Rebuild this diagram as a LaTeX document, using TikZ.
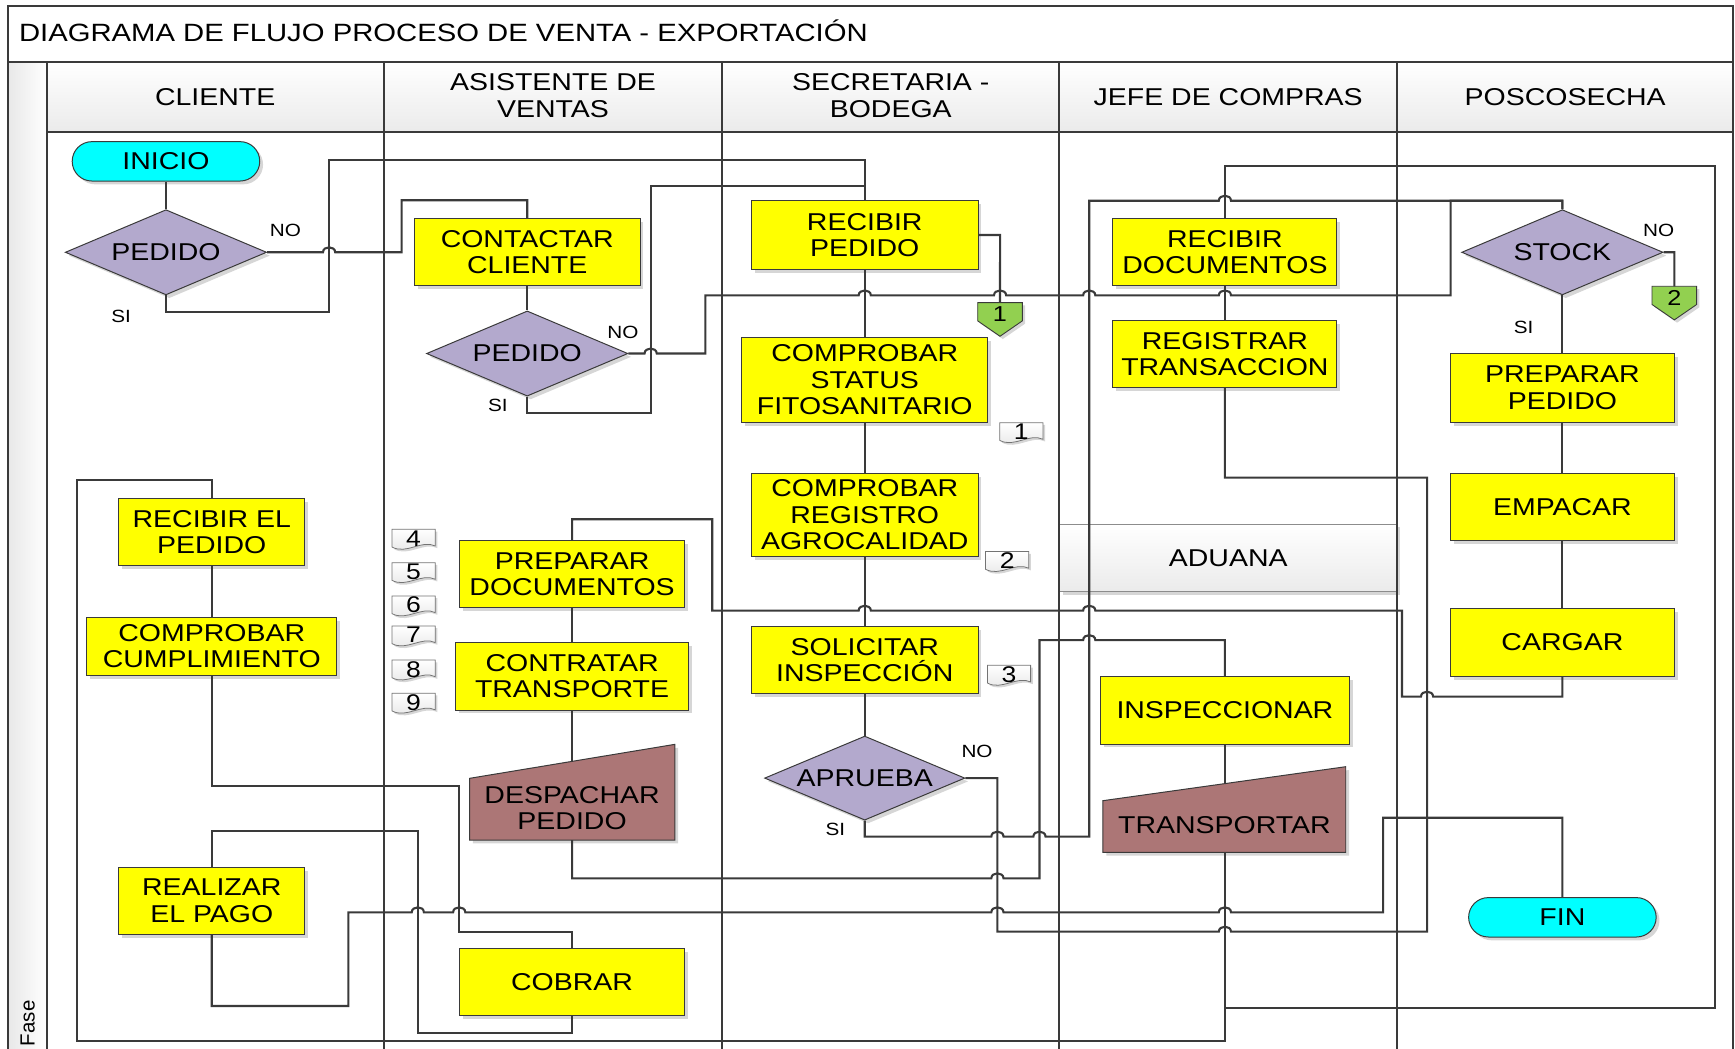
\documentclass[tikz,border=0pt]{standalone}
\usepackage{fontspec}
\setmainfont[FakeStretch=1.17]{Liberation Sans}
\newfontfamily\phasefont{Liberation Sans}
\usetikzlibrary{shapes.geometric,shadows}

\definecolor{ink}{HTML}{3A3A3A}
\definecolor{procfill}{HTML}{FFFF00}
\definecolor{decfill}{HTML}{B3A9CD}
\definecolor{termfill}{HTML}{00FFFF}
\definecolor{manfill}{HTML}{AC7676}
\definecolor{pagefill}{HTML}{92D050}
\definecolor{shade}{HTML}{D6D6D6}

% line hops over a crossing vertical line, centred at x = #1 on the row y = #2
\newcommand\hopR[2]{-- ({#1-5.5},#2) .. controls ({#1-5.5},{#2-6}) and ({#1+5.5},{#2-6}) .. ({#1+5.5},#2)}
\newcommand\hopL[2]{-- ({#1+5.5},#2) .. controls ({#1+5.5},{#2-6}) and ({#1-5.5},{#2-6}) .. ({#1-5.5},#2)}

% small document symbol with a number
\newcommand\docsheet[3]{%
  \path[draw=black!55,line width=0.7pt,top color=white,bottom color=black!10,
        drop shadow={shadow xshift=2pt,shadow yshift=-2pt,fill=shade,opacity=1}]
    (#1,#2) -- ({#1+39},#2) -- ({#1+39},{#2+15})
    .. controls ({#1+27},{#2+9}) and ({#1+13},{#2+23}) .. (#1,{#2+16}) -- cycle;
  \node[font=\fontsize{20.5}{22}\selectfont] (sheet#3) at ({#1+19.5},{#2+8.3}) {#3};}

% off-page connector pointing down
\newcommand\offpage[3]{%
  \path[draw=ink,line width=0.8pt,fill=pagefill,
        drop shadow={shadow xshift=2.5pt,shadow yshift=-2.5pt,fill=shade,opacity=1}]
    (#1,#2) -- ({#1+40.3},#2) -- ({#1+40.3},{#2+16.5}) -- ({#1+20.15},{#2+30.4})
    -- (#1,{#2+16.5}) -- cycle;
  \coordinate (offtop#3) at ({#1+20.15},#2);
  \node[font=\fontsize{19.5}{20}\selectfont] (off#3) at ({#1+20.15},{#2+10.5}) {#3};}

\begin{document}
\begin{tikzpicture}[x=1pt,y=-1pt,
  every node/.style={font=\fontsize{22}{24}\selectfont,inner sep=0pt},
  softshadow/.style={drop shadow={shadow xshift=3pt,shadow yshift=-3pt,fill=shade,opacity=1}},
  procbox/.style={rectangle,draw=ink,line width=0.9pt,fill=procfill,align=center,softshadow},
  decision/.style={diamond,aspect=2.4,draw=ink,line width=0.9pt,fill=decfill,softshadow,
                   minimum width=182pt,minimum height=77pt},
  terminal/.style={rectangle,rounded corners=17.8pt,draw=ink,line width=0.9pt,fill=termfill,
                   softshadow,minimum width=169.5pt,minimum height=35.6pt},
  manualop/.style={draw=ink,line width=0.9pt,fill=manfill,softshadow},
  conn/.style={draw=ink,line width=1.9pt},
  lane/.style={draw=ink,line width=1.8pt},
  branchlbl/.style={font=\fontsize{16}{18}\selectfont}]

\useasboundingbox (0,0) rectangle (1568,948);

% ---------- pool: title, lane headers, phase column ----------
\fill[left color=black!9,right color=white] (7.6,56.3) rectangle (42.2,948);
\fill[top color=white,bottom color=black!8] (42.2,56.3) rectangle (1566.5,119);

\node[draw=black!45,line width=0.9pt,top color=white,bottom color=black!8,softshadow,
      minimum width=305.1pt,minimum height=61.1pt] (aduana) at (1110,504.2) {ADUANA};

\draw[lane] (7.6,948) -- (7.6,5.4) -- (1566.5,5.4) -- (1566.5,948);
\draw[lane] (7.6,56.3) -- (1566.5,56.3);
\draw[lane] (42.2,56.3) -- (42.2,948);
\draw[lane] (42.2,119) -- (1566.5,119);
\foreach \xx in {346.9,652.6,957.5,1262.6} \draw[lane] (\xx,56.3) -- (\xx,948);

\node[anchor=base west,font=\fontsize{22.6}{24}\selectfont] (title) at (17,37.7)
  {DIAGRAMA DE FLUJO PROCESO DE VENTA - EXPORTACIÓN};
\node (hdrCli) at (194.5,88) {CLIENTE};
\node[align=center] (hdrAsi) at (499.8,86.5) {ASISTENTE DE\\VENTAS};
\node[align=center] (hdrSec) at (805,86.5) {SECRETARIA -\\BODEGA};
\node (hdrJef) at (1110,88) {JEFE DE COMPRAS};
\node (hdrPos) at (1414.5,88) {POSCOSECHA};
\node[rotate=90,anchor=east,font=\phasefont\fontsize{18.5}{20}\selectfont] (fase) at (25,904) {Fase};

% ---------- CLIENTE ----------
\node[terminal] (inicio) at (150,145.8) {INICIO};
\node[decision] (pedC) at (150,228) {PEDIDO};
\node[procbox,minimum width=168.4pt,minimum height=60.5pt] (rEl) at (191.4,481) {RECIBIR EL\\PEDIDO};
\node[procbox,minimum width=225.9pt,minimum height=52.4pt] (compC) at (191.4,584.1) {COMPROBAR\\CUMPLIMIENTO};
\node[procbox,minimum width=168.4pt,minimum height=60.6pt] (realiz) at (191.4,814.1) {REALIZAR\\EL PAGO};

% ---------- ASISTENTE DE VENTAS ----------
\node[procbox,minimum width=204.1pt,minimum height=60.9pt] (contact) at (476.5,227.8) {CONTACTAR\\CLIENTE};
\node[decision] (pedA) at (476.5,319.5) {PEDIDO};
\node[procbox,minimum width=202.8pt,minimum height=60.9pt] (prepDoc) at (517,519) {PREPARAR\\DOCUMENTOS};
\node[procbox,minimum width=210.4pt,minimum height=60.9pt] (contr) at (517,611.2) {CONTRATAR\\TRANSPORTE};
\path[manualop] (424.4,703.4) -- (609.9,672.7) -- (609.9,759.2) -- (424.4,759.2) -- cycle;
\coordinate (despTop) at (517,688.1);
\coordinate (despBot) at (517,759.2);
\node[align=center] (desp) at (517,730.2) {DESPACHAR\\PEDIDO};
\node[procbox,minimum width=202.8pt,minimum height=60.6pt] (cobrar) at (517,887.3) {COBRAR};
\docsheet{354.3}{478.4}{4}
\docsheet{354.3}{508.5}{5}
\docsheet{354.3}{538.6}{6}
\docsheet{354.3}{565.7}{7}
\docsheet{354.3}{596.5}{8}
\docsheet{354.3}{626.5}{9}

% ---------- SECRETARIA - BODEGA ----------
\node[procbox,minimum width=204.9pt,minimum height=62pt] (recP) at (781.5,212.4) {RECIBIR\\PEDIDO};
\offpage{883.6}{273.5}{1}
\node[procbox,minimum width=222.4pt,minimum height=76.9pt] (compS) at (781.5,343.2) {COMPROBAR\\STATUS\\FITOSANITARIO};
\node[procbox,minimum width=204.9pt,minimum height=75.3pt] (compR) at (781.5,465.4) {COMPROBAR\\REGISTRO\\AGROCALIDAD};
\node[procbox,minimum width=204.9pt,minimum height=60.3pt] (solic) at (781.5,596.5) {SOLICITAR\\INSPECCIÓN};
\node[decision,minimum width=181pt,minimum height=76pt] (apr) at (781.5,703.2) {APRUEBA};
\docsheet{903.5}{382}{1}
\docsheet{890.7}{498.5}{2}
\docsheet{892.4}{601.3}{3}

% ---------- JEFE DE COMPRAS ----------
\node[procbox,minimum width=202.4pt,minimum height=60.9pt] (recD) at (1107,227.8) {RECIBIR\\DOCUMENTOS};
\node[procbox,minimum width=202.4pt,minimum height=60.6pt] (regT) at (1107,320.1) {REGISTRAR\\TRANSACCION};
\node[procbox,minimum width=224.6pt,minimum height=60.9pt] (insp) at (1107,642) {INSPECCIONAR};
\path[manualop] (996.8,723.6) -- (1216.2,692.9) -- (1216.2,770.3) -- (996.8,770.3) -- cycle;
\coordinate (transpTop) at (1107,708.2);
\coordinate (transpBot) at (1107,770.3);
\node (transp) at (1106.6,745.6) {TRANSPORTAR};

% ---------- POSCOSECHA ----------
\node[decision] (stock) at (1412,228) {STOCK};
\offpage{1493}{258.7}{2}
\node[procbox,minimum width=202.4pt,minimum height=62.4pt] (prepP) at (1412,350.5) {PREPARAR\\PEDIDO};
\node[procbox,minimum width=202.4pt,minimum height=60.8pt] (empacar) at (1412,458.2) {EMPACAR};
\node[procbox,minimum width=202.4pt,minimum height=61.7pt] (cargar) at (1412,580.6) {CARGAR};
\node[terminal] (fin) at (1412,829) {FIN};

% ---------- decision labels ----------
\node[branchlbl] (noC) at (258,208) {NO};
\node[branchlbl] (siC) at (109.5,285.6) {SI};
\node[branchlbl] (noA) at (563,300.5) {NO};
\node[branchlbl] (siA) at (450,366.8) {SI};
\node[branchlbl] (noS) at (1499,208) {NO};
\node[branchlbl] (siS) at (1377,295.5) {SI};
\node[branchlbl] (noP) at (883,679) {NO};
\node[branchlbl] (siP) at (755,750) {SI};

% ---------- connectors ----------
\draw[conn] (inicio.south) -- (pedC.north);
\draw[conn] (pedC.east) \hopR{297.4}{228} -- (363,228) -- (363,181) -- (476.5,181) -- (contact.north);
\draw[conn] (pedC.south) -- (150,281.7) -- (297.4,281.7) -- (297.4,144.6) -- (781.5,144.6) -- (recP.north);
\draw[conn] (contact.south) -- (pedA.north);
\coordinate (joinA) at (781.5,167.8);
\draw[conn] (pedA.south) -- (476.5,373.5) -- (588,373.5) -- (588,167.8) -- (joinA);
\draw[conn] (pedA.east) \hopR{588}{319.5} -- (637.5,319.5) -- (637.5,267)
  \hopR{781.5}{267} \hopR{903.8}{267} \hopR{984.4}{267} \hopR{1107}{267}
  -- (1311,267) -- (1311,181.4) -- (1412,181.4) -- (stock.north);
\draw[conn] (recP.east) -- (903.8,212.4) -- (offtop1);
\draw[conn] (recP.south) -- (compS.north);
\draw[conn] (compS.south) -- (compR.north);
\draw[conn] (compR.south) -- (solic.north);
\draw[conn] (solic.south) -- (apr.north);
\draw[conn] (apr.east) -- (901.4,703.2) -- (901.4,842) \hopR{1107}{842} -- (1289.7,842)
  -- (1289.7,431.7) -- (1107,431.7) -- (regT.south);
\draw[conn] (apr.south) -- (781.5,756.1) \hopR{901.4}{756.1} \hopR{939.4}{756.1} -- (984.4,756.1)
  -- (984.4,181.4) \hopR{1107}{181.4} -- (1412,181.4) -- (stock.north);
\draw[conn] (contr.south) -- (despTop);
\draw[conn] (despBot) -- (517,793.8) \hopR{901.4}{793.8} -- (939.4,793.8) -- (939.4,578.5)
  \hopR{984.4}{578.5} -- (1107,578.5) -- (insp.north);
\draw[conn] (insp.south) -- (transpTop);
\draw[conn] (cargar.south) -- (1412,629.6) \hopL{1289.7}{629.6} -- (1267,629.6) -- (1267,551.9)
  \hopL{984.4}{551.9} \hopL{781.5}{551.9} -- (643.7,551.9) -- (643.7,469.3) -- (517,469.3) -- (prepDoc.north);
\draw[conn] (stock.south) -- (prepP.north);
\draw[conn] (prepP.south) -- (empacar.north);
\draw[conn] (empacar.south) -- (cargar.north);
\draw[conn] (stock.east) -- (1513.2,228) -- (offtop2);
\draw[conn] (recD.south) -- (regT.north);
\coordinate (splitT) at (1107,910.7);
\draw[conn] (transpBot) -- (1107,940.8) -- (69.2,940.8) -- (69.2,434.1) -- (191.4,434.1) -- (rEl.north);
\draw[conn] (splitT) -- (1549.7,910.7) -- (1549.7,149.7) -- (1107,149.7) -- (recD.north);
\draw[conn] (rEl.south) -- (compC.north);
\draw[conn] (compC.south) -- (191.4,710.3) -- (415,710.3) -- (415,842) -- (517,842) -- (cobrar.north);
\draw[conn] (cobrar.south) -- (517,933.6) -- (377.6,933.6) -- (377.6,750.7) -- (191.4,750.7) -- (realiz.north);
\draw[conn] (realiz.south) -- (191.4,909.2) -- (314.8,909.2) -- (314.8,824.5)
  \hopR{377.6}{824.5} \hopR{415}{824.5} \hopR{901.4}{824.5} \hopR{1107}{824.5}
  -- (1250,824.5) -- (1250,739) -- (1412,739) -- (fin.north);
\draw[conn] (prepDoc.south) -- (contr.north);

\end{tikzpicture}
\end{document}
